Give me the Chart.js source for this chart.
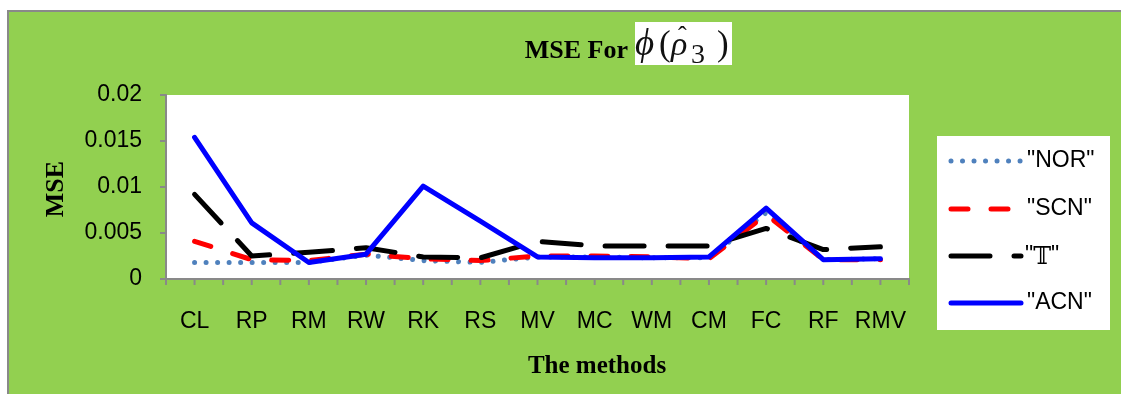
<!DOCTYPE html>
<html>
<head>
<meta charset="utf-8">
<title>MSE For phi(rho3)</title>
<script src="https://cdn.jsdelivr.net/npm/chart.js@4/dist/chart.umd.min.js"></script>
<style>
  html, body { margin: 0; padding: 0; background: #ffffff; overflow: hidden; }
  #wrap { width: 1121px; height: 394px; }
</style>
</head>
<body>
<div id="wrap"><canvas id="mse" width="1121" height="394"></canvas></div>
<script>
// Methods on the category axis
const categories = ['CL', 'RP', 'RM', 'RW', 'RK', 'RS', 'MV', 'MC', 'WM', 'CM', 'FC', 'RF', 'RMV'];

// MSE of each method under the four error distributions
const norValues = [0.0018, 0.0018, 0.0018, 0.0026, 0.0020, 0.0018, 0.0024, 0.0024, 0.0023, 0.0023, 0.0072, 0.0021, 0.0022];
const scnValues = [0.0041, 0.0021, 0.0020, 0.0027, 0.0022, 0.0020, 0.0025, 0.0025, 0.0024, 0.0022, 0.0070, 0.0021, 0.0021];
const tValues   = [0.0092, 0.0025, 0.0029, 0.0034, 0.0024, 0.0023, 0.0041, 0.0036, 0.0036, 0.0036, 0.0055, 0.0032, 0.0035];
const acnValues = [0.0154, 0.0061, 0.0018, 0.0027, 0.0101, 0.0063, 0.0024, 0.0023, 0.0023, 0.0024, 0.0077, 0.0021, 0.0022];

// Value axis labels
const yTickLabels = ['0', '0.005', '0.01', '0.015', '0.02'];

// Series names as shown in the legend
const seriesNames = ['"NOR"', '"SCN"', '"\u{1D54B}"', '"ACN"'];

const GREEN = '#92D050';
const AXIS_GREY = '#898989';
const TICK_FONT = '"Liberation Sans", Arial, sans-serif';
const SERIF = '"Liberation Serif", "Times New Roman", serif';

const decor = {
  id: 'decor',
  beforeDraw(chart) {
    const c = chart.ctx;
    const a = chart.chartArea;
    c.save();
    c.fillStyle = '#ffffff';
    c.fillRect(0, 0, chart.width, chart.height);
    // outer frame: grey rule on top and left, green panel
    c.fillStyle = AXIS_GREY;
    c.fillRect(7, 10, chart.width - 7 + 10, chart.height - 10 + 10);
    c.fillStyle = GREEN;
    c.fillRect(9, 12, chart.width - 9 + 10, chart.height - 12 + 10);
    // plot area
    c.fillStyle = '#ffffff';
    c.fillRect(a.left, a.top, a.right - a.left, a.bottom - a.top);
    c.restore();
  },
  afterDraw(chart) {
    const c = chart.ctx;
    const a = chart.chartArea;
    const xs = chart.scales.x;
    c.save();

    // category tick marks at the centres and between categories
    const half = (xs.getPixelForValue(1) - xs.getPixelForValue(0)) / 2;
    c.strokeStyle = AXIS_GREY;
    c.lineWidth = 2;
    c.beginPath();
    categories.forEach((_, i) => {
      const cx = xs.getPixelForValue(i);
      c.moveTo(cx - half, a.bottom); c.lineTo(cx - half, a.bottom + 6);
      c.moveTo(cx, a.bottom); c.lineTo(cx, a.bottom + 6);
      if (i === categories.length - 1) {
        c.moveTo(cx + half, a.bottom); c.lineTo(cx + half, a.bottom + 6);
      }
    });
    c.stroke();

    // title: "MSE For" followed by the formula on a white tile
    c.fillStyle = '#000000';
    c.textBaseline = 'alphabetic';
    c.textAlign = 'right';
    c.font = 'bold 26px ' + SERIF;
    c.fillText('MSE For', 628, 58);

    c.fillStyle = '#ffffff';
    c.fillRect(635, 22, 97, 43);
    c.fillStyle = '#111111';
    c.textAlign = 'left';
    c.font = 'italic 37px ' + SERIF;
    c.fillText('\u03D5', 635, 55);
    c.font = '35px ' + SERIF;
    c.fillText('(', 659, 55);
    c.font = 'italic 34px ' + SERIF;
    c.fillText('\u03C1', 671, 55);
    c.font = '26px ' + SERIF;
    c.fillText('\u02C6', 678, 44);
    c.font = '28px ' + SERIF;
    c.fillText('3', 691, 63);
    c.font = '35px ' + SERIF;
    c.fillText(')', 717, 55);

    // axis titles
    c.fillStyle = '#000000';
    c.textAlign = 'center';
    c.textBaseline = 'middle';
    c.font = 'bold 25px ' + SERIF;
    c.fillText('The methods', 597, 367);
    c.save();
    c.translate(56, 189);
    c.rotate(-Math.PI / 2);
    c.font = 'bold 26px ' + SERIF;
    c.fillText('MSE', 0, 0);
    c.restore();

    // legend panel
    c.fillStyle = '#ffffff';
    c.fillRect(937, 136, 173, 194);
    const rows = [161, 209, 256, 303];
    [0, 1, 2, 3].forEach((di, k) => {
      const ds = chart.data.datasets[di];
      const y = rows[k];
      c.save();
      c.strokeStyle = ds.borderColor;
      c.lineWidth = ds.borderWidth;
      c.lineCap = 'round';
      c.setLineDash(ds.borderDash || []);
      c.beginPath();
      c.moveTo(951, y);
      c.lineTo(1021, y);
      c.stroke();
      c.restore();
      c.fillStyle = '#000000';
      c.textAlign = 'left';
      c.textBaseline = 'middle';
      c.font = '23px ' + TICK_FONT;
      if (di === 2) {
        c.fillText('"', 1025, y);
        const q = c.measureText('"').width;
        c.font = '24px "DejaVu Serif", "DejaVu Sans", serif';
        c.fillText('\u{1D54B}', 1025 + q, y + 2);
        const t = c.measureText('\u{1D54B}').width;
        c.font = '23px ' + TICK_FONT;
        c.fillText('"', 1025 + q + t, y);
      } else {
        c.fillText(seriesNames[di], 1027, y);
      }
    });
    c.restore();
  }
};

const line = (label, data, color, dash, order) => ({
  label, data,
  borderColor: color,
  backgroundColor: color,
  borderWidth: 5,
  borderDash: dash,
  borderCapStyle: 'round',
  borderJoinStyle: 'round',
  pointRadius: 0,
  tension: 0,
  fill: false,
  order
});

new Chart(document.getElementById('mse'), {
  type: 'line',
  data: {
    labels: categories,
    datasets: [
      line(seriesNames[0], norValues, '#4F81BD', [0.01, 11.5], 4),
      line(seriesNames[1], scnValues, '#FF0000', [17, 23], 3),
      line(seriesNames[2], tValues, '#000000', [39, 24], 2),
      line(seriesNames[3], acnValues, '#0000FF', [], 1)
    ]
  },
  options: {
    responsive: false,
    animation: false,
    devicePixelRatio: 1,
    layout: { padding: { left: 0, right: 212, top: 95, bottom: 55 } },
    plugins: {
      legend: { display: false },
      title: { display: false },
      tooltip: { enabled: false }
    },
    scales: {
      x: {
        offset: true,
        grid: { display: false },
        border: { display: true, color: AXIS_GREY, width: 2 },
        ticks: {
          color: '#000000',
          font: { family: TICK_FONT, size: 23 },
          padding: 21,
          maxRotation: 0,
          minRotation: 0,
          autoSkip: false
        },
        afterFit(s) { s.height = 60; }
      },
      y: {
        min: 0,
        max: 0.02,
        grid: { drawOnChartArea: false, drawTicks: true, tickLength: 6, color: AXIS_GREY, lineWidth: 2 },
        border: { display: true, color: AXIS_GREY, width: 2 },
        ticks: {
          stepSize: 0.005,
          color: '#000000',
          font: { family: TICK_FONT, size: 23 },
          padding: 18,
          callback: (v, i) => yTickLabels[i]
        },
        afterFit(s) { s.width = 166; }
      }
    }
  },
  plugins: [decor]
});
</script>
</body>
</html>
